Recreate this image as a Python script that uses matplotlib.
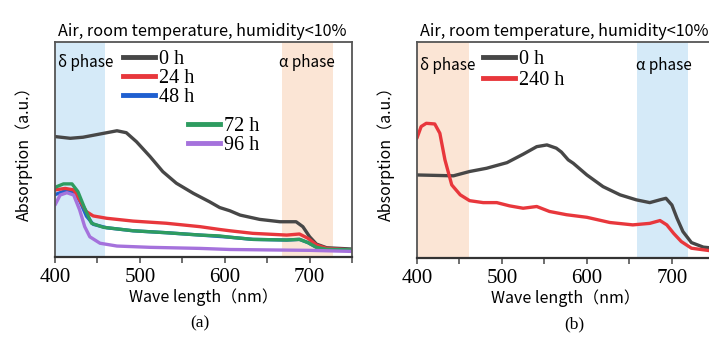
import numpy as np
import matplotlib
matplotlib.use("Agg")
import matplotlib.pyplot as plt
from matplotlib.ticker import MultipleLocator
from matplotlib.lines import Line2D

# panel (a): ageing series, absorption in arbitrary units
wl_a_0 = [400, 418, 433, 453, 473, 484, 496, 512, 527, 543, 563, 582, 594, 606, 618, 641,
          665, 684, 692, 700, 708, 720, 750]
abs_a_0 = [0.560, 0.552, 0.557, 0.572, 0.587, 0.578, 0.536, 0.467, 0.397, 0.343, 0.296, 0.257, 0.230,
           0.215, 0.195, 0.175, 0.164, 0.164, 0.141, 0.094, 0.060, 0.043, 0.037]

wl_a_24 = [400, 412, 422, 429, 437, 445, 461, 492, 531, 571, 594, 606, 633, 673, 688, 698, 708, 720, 750]
abs_a_24 = [0.312, 0.319, 0.312, 0.265, 0.211, 0.191, 0.180, 0.167, 0.157, 0.141, 0.128, 0.122, 0.110,
            0.102, 0.107, 0.087, 0.056, 0.040, 0.033]

wl_a_48 = [400, 412, 422, 429, 437, 445, 461, 492, 531, 571, 606, 633, 673, 688, 698, 708, 720, 750]
abs_a_48 = [0.290, 0.308, 0.303, 0.262, 0.190, 0.152, 0.136, 0.122, 0.113, 0.102, 0.092, 0.082,
            0.079, 0.082, 0.067, 0.045, 0.036, 0.033]

wl_a_72 = [400, 410, 420, 427, 435, 443, 457, 492, 531, 571, 594, 606, 633, 673, 688, 698, 708, 720, 750]
abs_a_72 = [0.324, 0.340, 0.340, 0.304, 0.226, 0.157, 0.138, 0.122, 0.113, 0.102, 0.098, 0.092, 0.082,
            0.079, 0.082, 0.067, 0.045, 0.036, 0.033]

wl_a_96 = [400, 406, 414, 422, 429, 435, 441, 453, 473, 512, 571, 606, 650, 700, 750]
abs_a_96 = [0.242, 0.288, 0.299, 0.288, 0.219, 0.141, 0.094, 0.064, 0.051, 0.045, 0.040, 0.035,
            0.033, 0.031, 0.026]

# panel (b)
wl_b_0 = [400, 443, 462, 482, 506, 525, 541, 553, 564, 570, 578, 584, 600, 619, 639, 658, 674, 686,
          693, 700, 706, 713, 723, 737, 750]
abs_b_0 = [0.384, 0.380, 0.400, 0.415, 0.441, 0.480, 0.515, 0.523, 0.508, 0.490, 0.454, 0.438, 0.384,
           0.330, 0.292, 0.269, 0.256, 0.269, 0.276, 0.245, 0.184, 0.122, 0.071, 0.050, 0.045]

wl_b_240 = [400, 405, 411, 421, 427, 433, 441, 451, 462, 478, 494, 509, 525, 541, 556, 576, 600, 627,
            654, 674, 686, 694, 702, 711, 723, 744, 750]
abs_b_240 = [0.554, 0.608, 0.623, 0.620, 0.577, 0.454, 0.338, 0.292, 0.265, 0.256, 0.256, 0.241, 0.230,
             0.238, 0.215, 0.200, 0.188, 0.164, 0.153, 0.160, 0.173, 0.153, 0.114, 0.076, 0.045, 0.034,
             0.034]

title = "Air, room temperature, humidity<10%"
xlab = "Wave length（nm）"
ylab = "Absorption（a.u.）"

c_black = "#474747"
c_red = "#e8373c"
c_blue = "#1f5fd0"
c_green = "#2e9c60"
c_purple = "#a572dc"
shade_blue = "#d5eaf8"
shade_orange = "#fbe5d5"

sans = ["Noto Sans CJK SC", "DejaVu Sans"]
serif = "Liberation Serif"

fig = plt.figure(figsize=(7.09, 3.43), dpi=100)
ax1 = fig.add_axes([0.0776, 0.2507, 0.419, 0.627])
ax2 = fig.add_axes([0.588, 0.248, 0.4196, 0.63])


def style(ax, label, label_x):
    ax.set_xlim(400, 750)
    ax.set_ylim(0, 1)
    ax.set_yticks([])
    ax.xaxis.set_major_locator(MultipleLocator(100))
    ax.xaxis.set_minor_locator(MultipleLocator(50))
    ax.tick_params(axis="x", which="both", direction="out", length=4, width=1.2, color="#555555")
    ax.tick_params(axis="x", which="major", labelsize=15, pad=4, labelfontfamily=serif)
    for s in ax.spines.values():
        s.set_color("#555555")
        s.set_linewidth(1.3)
    ax.spines["bottom"].set_color("#333333")
    ax.spines["bottom"].set_linewidth(1.6)
    ax.set_xlabel(xlab, family=sans, fontsize=11.5, labelpad=1)
    ax.set_ylabel(ylab, family=sans, fontsize=11.5, labelpad=16)
    ax.set_title(title, family=sans, fontsize=11.7, pad=4, loc="left", x=0.01)
    ax.text(label_x, -0.27, label, transform=ax.transAxes, ha="center", va="top",
            family=serif, fontsize=12.5)


lw = 2.4
kw = dict(lw=lw, solid_joinstyle="round", solid_capstyle="round")

# (a)
ax1.axvspan(400, 459, color=shade_blue, lw=0, zorder=0)
ax1.axvspan(667, 728, color=shade_orange, lw=0, zorder=0)
ax1.plot(wl_a_0, abs_a_0, color=c_black, **kw)
ax1.plot(wl_a_48, abs_a_48, color=c_blue, **kw)
ax1.plot(wl_a_24, abs_a_24, color=c_red, **kw)
ax1.plot(wl_a_72, abs_a_72, color=c_green, **kw)
ax1.plot(wl_a_96, abs_a_96, color=c_purple, **kw)
style(ax1, "(a)", 0.488)
ax1.text(0.01, 0.905, "δ phase", transform=ax1.transAxes, family=sans, fontsize=11, va="center")
ax1.text(0.755, 0.905, "α phase", transform=ax1.transAxes, family=sans, fontsize=11, va="center")

legkw = dict(loc="upper left", frameon=False, handlelength=1.6, handletextpad=0.2, labelspacing=0.0,
             prop={"family": serif, "size": 14.5}, borderpad=0, borderaxespad=0)
h1 = [Line2D([], [], color=c, lw=3.5) for c in (c_black, c_red, c_blue)]
leg1 = ax1.legend(h1, ["0 h", "24 h", "48 h"], bbox_to_anchor=(0.229, 0.963), **legkw)
ax1.add_artist(leg1)
h2 = [Line2D([], [], color=c, lw=3.5) for c in (c_green, c_purple)]
ax1.legend(h2, ["72 h", "96 h"], bbox_to_anchor=(0.448, 0.653), **legkw)

# (b)
ax2.axvspan(400, 461, color=shade_orange, lw=0, zorder=0)
ax2.axvspan(659, 719, color=shade_blue, lw=0, zorder=0)
ax2.plot(wl_b_0, abs_b_0, color=c_black, **kw)
ax2.plot(wl_b_240, abs_b_240, color=c_red, **kw)
style(ax2, "(b)", 0.53)
ax2.text(0.01, 0.89, "δ phase", transform=ax2.transAxes, family=sans, fontsize=11, va="center")
ax2.text(0.735, 0.89, "α phase", transform=ax2.transAxes, family=sans, fontsize=11, va="center")
h3 = [Line2D([], [], color=c, lw=3.5) for c in (c_black, c_red)]
ax2.legend(h3, ["0 h", "240 h"], bbox_to_anchor=(0.222, 0.963), **dict(legkw, labelspacing=0.1))

fig.savefig("out.png", dpi=100)
